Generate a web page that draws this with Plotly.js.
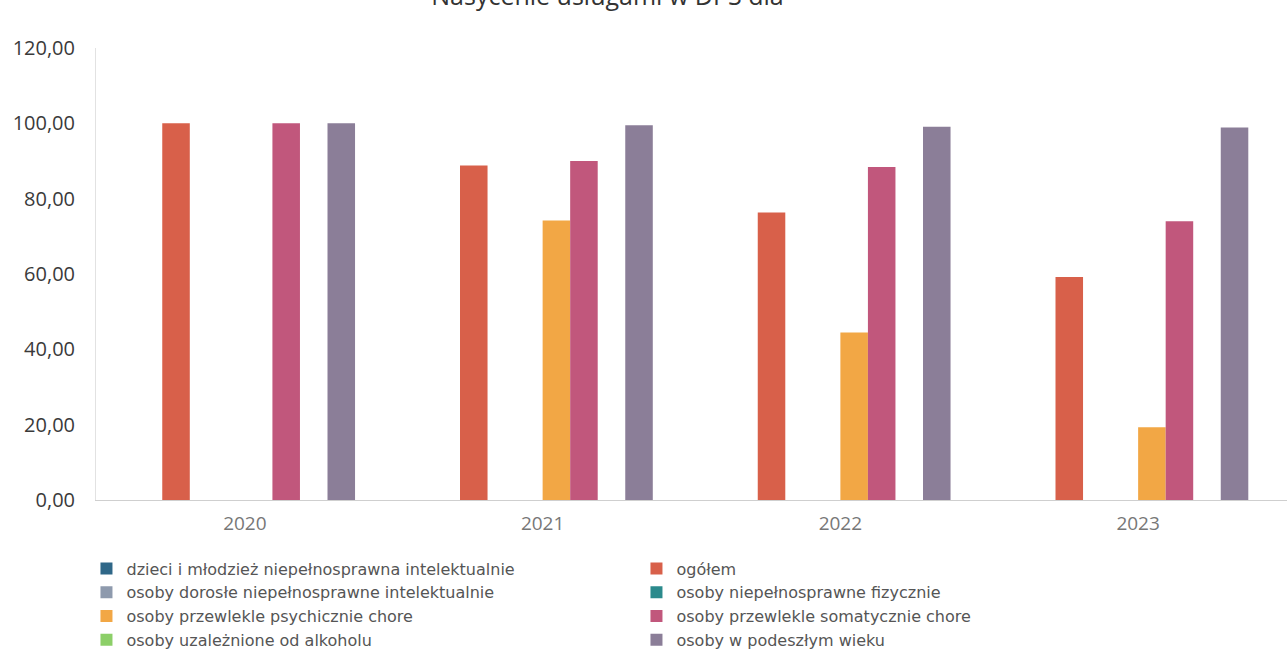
<!DOCTYPE html>
<html>
<head>
<meta charset="utf-8">
<script src="https://cdn.plot.ly/plotly-3.0.1.min.js"></script>
<style>html,body{margin:0;padding:0;background:#fff;}#chart{width:1287px;height:653px;}</style>
</head>
<body>
<div id="chart"></div>
<script>
const years = ['2020', '2021', '2022', '2023'];
const seriesNames = [
  'dzieci i młodzież niepełnosprawna intelektualnie',
  'ogółem',
  'osoby dorosłe niepełnosprawne intelektualnie',
  'osoby niepełnosprawne fizycznie',
  'osoby przewlekle psychicznie chore',
  'osoby przewlekle somatycznie chore',
  'osoby uzależnione od alkoholu',
  'osoby w podeszłym wieku'
];
const dzieci = [0, 0, 0, 0];
const ogolem = [100, 88.8, 76.3, 59.2];
const dorosle = [0, 0, 0, 0];
const fizycznie = [0, 0, 0, 0];
const psychicznie = [0, 74.2, 44.5, 19.3];
const somatycznie = [100, 90.0, 88.4, 74.0];
const alkohol = [0, 0, 0, 0];
const podeszly = [100, 99.5, 99.1, 98.9];
const yTicks = [0, 20, 40, 60, 80, 100, 120];

const values = [dzieci, ogolem, dorosle, fizycznie, psychicznie, somatycznie, alkohol, podeszly];
const colors = ['#2f6788', '#d8604a', '#8e9aad', '#2b8a8c', '#f2a745', '#c1577c', '#8ccf68', '#8b7e98'];

const traces = seriesNames.map((n, i) => ({
  type: 'bar',
  name: n,
  x: years,
  y: values[i],
  marker: {color: colors[i], line: {width: 0}},
  hoverinfo: 'x+y+name'
}));

const layout = {
  width: 1287, height: 653,
  paper_bgcolor: '#ffffff', plot_bgcolor: '#ffffff',
  separators: ', ',
  margin: {l: 96, r: 0, t: 48, b: 153, autoexpand: false},
  barmode: 'group',
  bargap: 0.26,
  bargroupgap: 0,
  title: {
    text: 'Nasycenie usługami w DPS dla',
    font: {family: 'Open Sans, sans-serif', size: 25, color: '#333'},
    x: 0.472, xanchor: 'center',
    yref: 'container', y: 0.992, yanchor: 'bottom'
  },
  xaxis: {
    type: 'category',
    tickfont: {family: 'Open Sans, sans-serif', size: 19, color: '#777'},
    showline: true, linecolor: '#cfcfcf', linewidth: 1,
    ticks: '', showgrid: false, zeroline: false,
    ticklabelstandoff: 6
  },
  yaxis: {
    range: [0, 120],
    tickvals: yTicks,
    tickformat: '.2f',
    tickfont: {family: 'Open Sans, sans-serif', size: 20, color: '#3a3a3a'},
    showline: true, linecolor: '#e2e2e2', linewidth: 1,
    showgrid: false, zeroline: false, ticks: '',
    ticklabelstandoff: 16
  },
  legend: {
    orientation: 'h',
    x: -0.008, xanchor: 'left',
    y: -0.114, yanchor: 'top',
    entrywidth: 505, entrywidthmode: 'pixels',
    font: {family: 'DejaVu Sans, sans-serif', size: 16, color: '#555'},
    itemwidth: 30,
    tracegroupgap: 0,
    traceorder: 'normal'
  },
  showlegend: true
};

Plotly.newPlot('chart', traces, layout, {displayModeBar: false, staticPlot: true});
</script>
</body>
</html>
